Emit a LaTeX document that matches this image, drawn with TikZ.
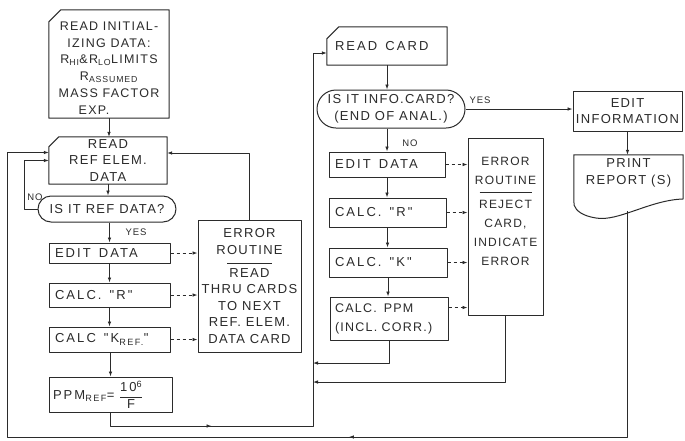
\documentclass[tikz,border=0pt]{standalone}
\usepackage{fontspec}
\setmainfont[LetterSpace=10]{Liberation Sans}
\newfontfamily\widefont[LetterSpace=16]{Liberation Sans}
\usepackage{amsmath}
\usetikzlibrary{shapes.misc,arrows.meta,decorations.markings,calc}
\definecolor{ink}{HTML}{2B2B2B}
\newcommand{\fs}{\fontsize{13pt}{16.5pt}\selectfont}
\newcommand{\fw}{\widefont\fontsize{13pt}{16.5pt}\selectfont}
\newcommand{\gap}{\hspace{8pt}}
\begin{document}
\begin{tikzpicture}[x=1pt,y=-1pt,line join=round,
  lw/.style={line width=1pt},
  box/.style={draw=ink,lw,inner sep=0pt,font=\fs,text=ink,align=center},
  lbox/.style 2 args={draw=ink,lw,inner sep=0pt,font=\fw,text=ink,
     minimum width=#1,text width=#2,align=left},
  plain/.style={inner sep=0pt,font=\fs,text=ink,align=center},
  dec/.style={box,rounded rectangle},
  lbl/.style={inner sep=0pt,font=\fontsize{9.5pt}{10pt}\selectfont,text=ink},
  flow/.style={draw=ink,line width=0.9pt,-{Latex[length=5pt,width=3.6pt]}},
  dflow/.style={flow,dash pattern=on 3pt off 3pt},
  midarrow/.style={postaction={decorate},decoration={markings,
     mark=at position #1 with {\arrow{Latex[length=5pt,width=3.6pt]}}}}]
\useasboundingbox (0,0) rectangle (685,440);
\fill[white] (0,0) rectangle (685,440);

% ---------- left column ----------
\node[plain,font=\fontsize{12.5pt}{16.8pt}\selectfont,minimum width=120pt,minimum height=100pt] (init) at (109,68)
  {READ INITIAL-\\IZING DATA:\\R\textsubscript{HI}\&R\textsubscript{LO}LIMITS\\R\textsubscript{ASSUMED}\hspace*{6pt}\\MASS FACTOR\\EXP.\hspace*{30pt}};
\draw[ink,lw] ([yshift=-4pt]init.north west) -- ([xshift=12pt,yshift=8pt]init.north west) -- ([yshift=8pt]init.north east) -- (init.south east) -- (init.south west) -- cycle;

\node[plain,minimum width=118pt,minimum height=47pt] (readref) at (108,160.5)
  {READ\\REF ELEM.\\DATA};
\draw[ink,lw] ([yshift=-10pt]readref.north west) -- ([xshift=10pt]readref.north west) -- (readref.north east) -- (readref.south east) -- (readref.south west) -- cycle;

\node[dec,minimum width=138pt,minimum height=26pt] (dec1) at (107,209) {IS IT REF DATA?};
\node[lbox={121pt}{109pt},minimum height=20pt] (edit1) at (109.5,253) {EDIT\gap DATA};
\node[lbox={121pt}{109pt},minimum height=24pt] (calcr1) at (109.5,295) {CALC.\gap"R"};
\node[lbox={121pt}{109pt},minimum height=25pt] (calck1) at (109.5,339.5) {CALC\gap"K\textsubscript{REF.}"};
\node[lbox={123pt}{115pt},minimum height=35pt] (ppm1) at (110.5,394.5)
  {PPM\textsubscript{REF}= $\dfrac{\text{10\textsuperscript{6}}}{\text{F}}$};

\node[box,minimum width=103pt,minimum height=132pt] (err1) at (249.5,286)
  {ERROR\\ROUTINE\\[-7pt]\rule{45pt}{0.8pt}\\[-3pt]READ\\THRU CARDS\\TO NEXT\\REF. ELEM.\\DATA CARD};

% ---------- right column ----------
\node[plain,font=\fw,minimum width=120pt,minimum height=38pt,text width=104pt,align=left] (readcard) at (387,46) {READ\gap CARD};
\draw[ink,lw] ([yshift=-12pt]readcard.north west) -- ([xshift=12pt]readcard.north west) -- (readcard.north east) -- (readcard.south east) -- (readcard.south west) -- cycle;

\node[dec,minimum width=148pt,minimum height=38pt] (dec2) at (391,109)
  {IS IT INFO.CARD?\\(END OF ANAL.)};
\node[lbox={116pt}{104pt},minimum height=25pt] (edit2) at (387,164.5) {EDIT\gap DATA};
\node[lbox={117pt}{105pt},minimum height=29pt] (calcr2) at (387.5,212.5) {CALC.\gap"R"};
\node[lbox={118pt}{106pt},minimum height=29pt] (calck2) at (388,262.5) {CALC.\gap"K"};
\node[lbox={118pt}{108pt},font=\fontsize{12.5pt}{19pt}\selectfont,minimum height=43pt] (ppm2) at (389,318.5)
  {CALC.\hspace{7pt}PPM\\(INCL. CORR.)};

\node[box,minimum width=75pt,minimum height=177pt] (err2) at (505.5,226.5) {};
\node[plain,font=\fontsize{12pt}{19pt}\selectfont,anchor=north] (err2t) at ([yshift=-19pt]err2.north)
  {ERROR\\ROUTINE\\[-10pt]\rule{52pt}{0.8pt}\\[-4pt]REJECT\\CARD,\\INDICATE\\ERROR};

\node[box,minimum width=109pt,minimum height=40pt] (editinfo) at (627.5,111)
  {EDIT\\INFORMATION};
\node[plain,minimum width=109pt,minimum height=36pt] (print) at (628.5,173)
  {PRINT\\REPORT (S)};
\draw[ink,lw] (print.north west) -- (print.north east) -- (683,199)
  .. controls (650,200) and (618,222) .. (596,218)
  .. controls (583,216) and (576,211) .. (574,205) -- cycle;

% ---------- labels ----------
\node[lbl] at (136,232) {YES};
\node[lbl] at (35,197) {NO};
\node[lbl] at (410,143) {NO};
\node[lbl] at (480,100) {YES};

% ---------- coordinates ----------
\coordinate (noL) at (24,160.5);
\coordinate (prout) at (627,211);
\coordinate (outBL) at (7,437);
\coordinate (busB) at (313,426);
\coordinate (bus1) at (313,363);
\coordinate (bus2) at (313,382);

% ---------- connectors left ----------
\draw[flow] (init.south) -- (init.south |- readref.north);
\draw[flow] (readref.south) -- (readref.south |- dec1.north);
\draw[flow] (dec1.south -| edit1.north) -- (edit1.north);
\draw[flow] (edit1.south) -- (calcr1.north);
\draw[flow] (calcr1.south) -- (calck1.north);
\draw[flow] (calck1.south -| ppm1.north) -- (ppm1.north);
\draw[flow] (dec1.west) -| (noL) -- (readref.west);
\draw[flow,midarrow=0.43] (prout) |- (outBL) |- ([yshift=8pt]readref.west);
\draw[flow] (err1.north) |- ([yshift=7.5pt]readref.east);
\foreach \n in {edit1,calcr1,calck1}
  \draw[dflow] (\n.east) -- (\n.east -| err1.west);
\draw[flow,midarrow=0.19] (ppm1.south) |- (busB) |- ([yshift=-7pt]readcard.west);

% ---------- connectors right ----------
\draw[flow] (readcard.south) -- (readcard.south |- dec2.north);
\draw[flow] (dec2.south -| edit2.north) -- (edit2.north);
\draw[flow] (edit2.south) -- (edit2.south |- calcr2.north);
\draw[flow] (calcr2.south) -- (calcr2.south |- calck2.north);
\draw[flow] (calck2.south) -- (calck2.south |- ppm2.north);
\draw[flow] (dec2.east) -- (dec2.east -| editinfo.west);
\draw[flow] (editinfo.south) -- (editinfo.south |- print.north);
\foreach \n in {edit2,calcr2,calck2}
  \draw[dflow] (\n.east) -- (\n.east -| err2.west);
\draw[dflow] ([yshift=11pt]ppm2.east) -- ([yshift=11pt]ppm2.east -| err2.west);
\draw[flow] (ppm2.south) |- (bus1);
\draw[flow] (err2.south) |- (bus2);
\end{tikzpicture}
\end{document}
